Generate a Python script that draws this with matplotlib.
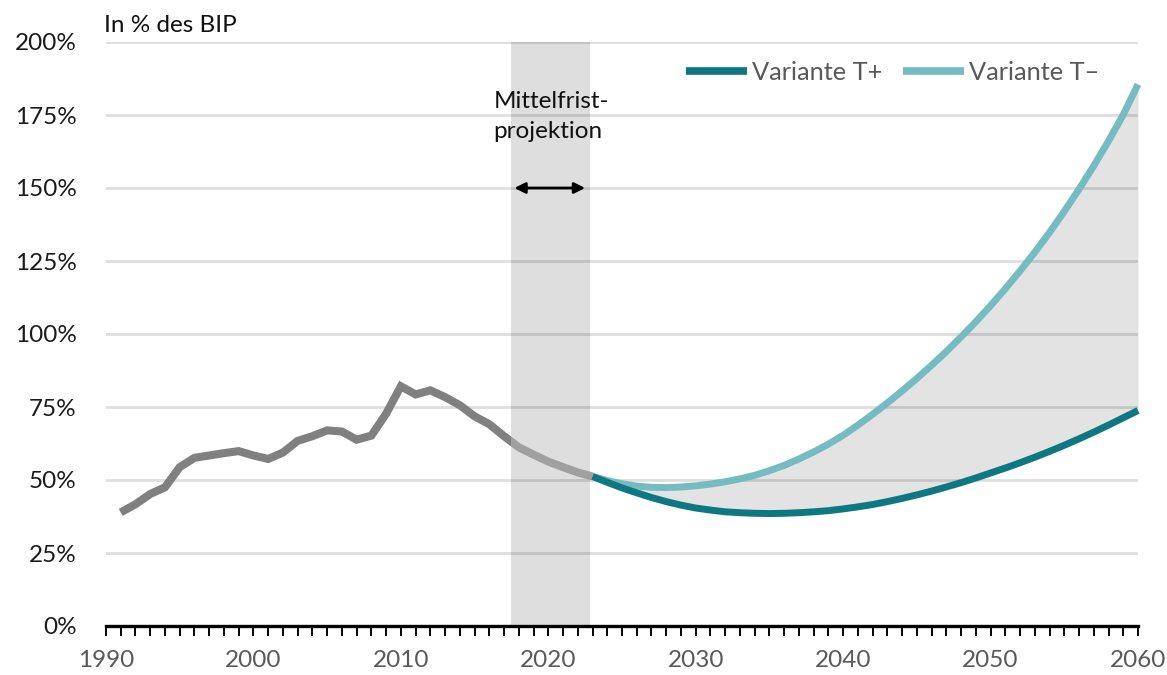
import matplotlib
matplotlib.use("Agg")
import matplotlib.pyplot as plt
from matplotlib.patches import Rectangle
from matplotlib.ticker import MultipleLocator, FuncFormatter

plt.rcParams['font.family'] = ['Lato', 'DejaVu Sans']

# Schuldenquote in % des BIP (Ist-Werte bis 2017, danach Mittelfristprojektion)
hist_years = list(range(1991, 2024))
hist_values = [38.9, 41.7, 45.2, 47.5, 54.4, 57.6, 58.4, 59.2, 59.9, 58.4,
               57.2, 59.4, 63.4, 65.0, 67.0, 66.6, 63.8, 65.2, 72.7, 82.1,
               79.3, 80.7, 78.4, 75.6, 71.8, 69.1, 65.0, 61.2, 58.7, 56.3,
               54.4, 52.6, 51.2]

# Langfristprojektion
proj_years = list(range(2023, 2061))
t_plus = [51.2, 49.2, 47.3, 45.6, 44.0, 42.6, 41.4, 40.4, 39.7, 39.1,
          38.8, 38.6, 38.5, 38.6, 38.8, 39.1, 39.5, 40.1, 40.8, 41.6,
          42.6, 43.7, 44.9, 46.2, 47.6, 49.1, 50.7, 52.4, 54.1, 55.9,
          57.8, 59.8, 61.9, 64.1, 66.4, 68.8, 71.3, 73.8]
t_minus = [51.2, 49.8, 48.7, 47.9, 47.5, 47.4, 47.6, 48.0, 48.6, 49.4,
           50.4, 51.6, 53.2, 55.0, 57.2, 59.6, 62.3, 65.3, 68.8, 72.5,
           76.4, 80.5, 84.8, 89.3, 94.0, 99.0, 104.2, 109.7, 115.5, 121.6,
           128.0, 134.8, 142.0, 149.6, 157.6, 166.1, 175.1, 185.5]

series_labels = ['Variante T+', 'Variante T\u2013']
y_ticks = [0, 25, 50, 75, 100, 125, 150, 175, 200]
x_labels = [1990, 2000, 2010, 2020, 2030, 2040, 2050, 2060]

mittelfrist_start = 2017.5
mittelfrist_end = 2022.8

dark_teal = '#0e7882'
light_teal = '#74bcc2'

fig = plt.figure(figsize=(11.67, 6.75), dpi=100)
ax = fig.add_axes([106 / 1167, 49 / 675, 1032 / 1167, 584 / 675])

ax.set_xlim(1990, 2060)
ax.set_ylim(0, 200)

# Mittelfrist-Bereich
ax.add_patch(Rectangle((mittelfrist_start, 0), mittelfrist_end - mittelfrist_start, 200,
                       facecolor='#dedede', edgecolor='none', zorder=0.2))

# Bandbreite zwischen den Varianten
ax.fill_between(proj_years, t_plus, t_minus, color='#e3e3e3', lw=0, zorder=0.2)

# Gitterlinien
for v in y_ticks[1:]:
    ax.axhline(v, color='black', alpha=0.13, lw=2, zorder=0.5)

# Historische Werte (dunkelgrau) und Mittelfristprojektion (hellgrau)
hist_line, = ax.plot(hist_years, hist_values, color='#808080', lw=5.8,
                     solid_joinstyle='miter', solid_capstyle='butt', zorder=3)
hist_line.set_clip_path(Rectangle((1980, -10), mittelfrist_start - 1980, 300,
                                  transform=ax.transData))
mid_line, = ax.plot(hist_years, hist_values, color='#a0a0a0', lw=5.8,
                    solid_capstyle='butt', zorder=3)
mid_line.set_clip_path(Rectangle((mittelfrist_start, -10), 2060 - mittelfrist_start, 300,
                                 transform=ax.transData))

ax.plot(proj_years, t_minus, color=light_teal, lw=5, solid_capstyle='butt',
        zorder=4, clip_on=False, label=series_labels[1])
ax.plot(proj_years, t_plus, color=dark_teal, lw=5, solid_capstyle='butt',
        zorder=4, clip_on=False, label=series_labels[0])

# Pfeil für Mittelfrist
ax.annotate('', xy=(2017.7, 150), xytext=(2022.5, 150),
            arrowprops=dict(arrowstyle='<|-|>', color='black', lw=2,
                            mutation_scale=16, shrinkA=0, shrinkB=0), zorder=5)
ax.text(2020.2, 174.5, 'Mittelfrist-\nprojektion', ha='center', va='center',
        multialignment='left', fontsize=17.5, color='#111111', linespacing=1.55)

# Achsen
for side in ['left', 'right', 'top']:
    ax.spines[side].set_visible(False)
ax.spines['bottom'].set_linewidth(2.4)
ax.spines['bottom'].set_color('black')
ax.spines['bottom'].set_zorder(6)

ax.set_xticks(x_labels)
ax.xaxis.set_minor_locator(MultipleLocator(1))
ax.tick_params(axis='x', which='both', direction='out', length=7.5, width=1.4,
               color='black', labelsize=17.5, labelcolor='#595959', pad=10)
ax.set_yticks(y_ticks)
ax.yaxis.set_major_formatter(FuncFormatter(lambda v, p: f"{int(v)}%"))
ax.tick_params(axis='y', length=0, labelsize=17.5, labelcolor='#1a1a1a', pad=21)

fig.text(104 / 1167, 1 - 25 / 675, 'In % des BIP', ha='left', va='center',
         fontsize=17.5, color='#111111')

handles, labels = ax.get_legend_handles_labels()
leg = ax.legend(handles[::-1], labels[::-1], ncol=2, frameon=False,
                loc='center left', bbox_to_anchor=(686 / 1167, 1 - 72 / 675),
                bbox_transform=fig.transFigure, borderpad=0, borderaxespad=0,
                handlelength=2.4, handletextpad=0.2, columnspacing=0.8,
                fontsize=18.3)
for t in leg.get_texts():
    t.set_color('#595959')
for h in leg.get_lines():
    h.set_linewidth(5.5)

fig.savefig('out.png', dpi=100)
